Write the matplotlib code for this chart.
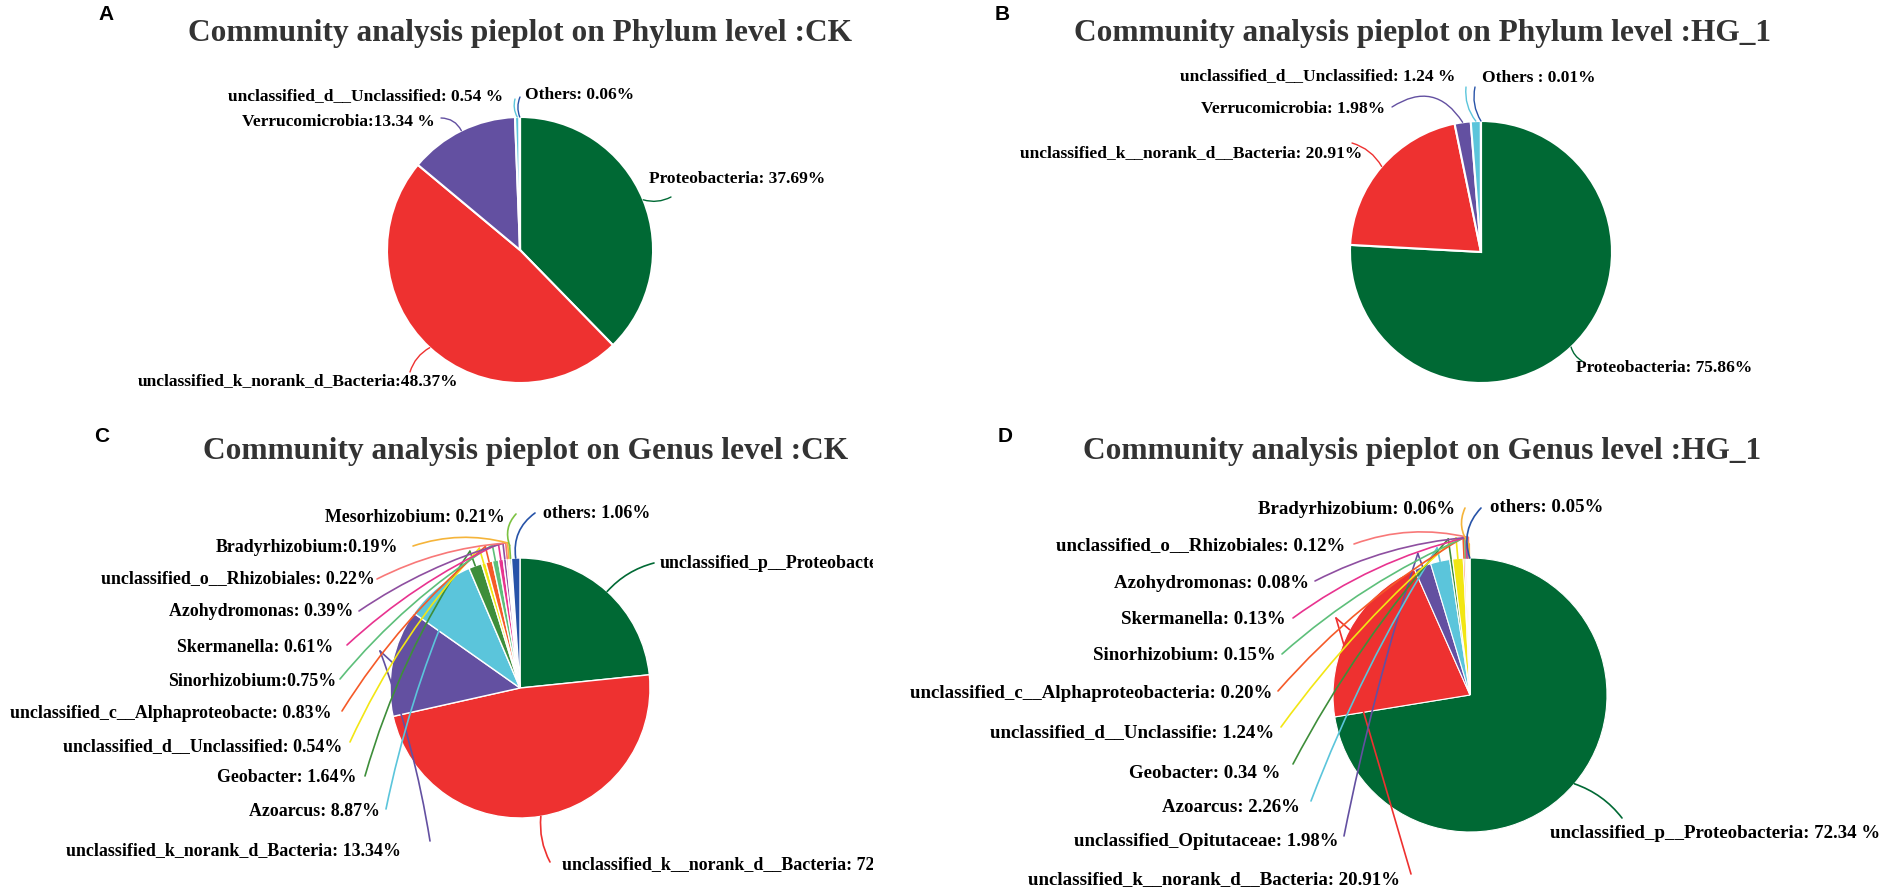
import matplotlib
matplotlib.use("Agg")
import matplotlib.pyplot as plt
import numpy as np
from matplotlib.transforms import Bbox, TransformedBbox

# ---------------- data ----------------
titles = ["Community analysis pieplot on Phylum level :CK",
          "Community analysis pieplot on Phylum level :HG_1",
          "Community analysis pieplot on Genus level :CK",
          "Community analysis pieplot on Genus level :HG_1"]
panel_letters = ["A", "B", "C", "D"]

labels_A = ["Proteobacteria: 37.69%", "unclassified_k_norank_d_Bacteria:48.37%",
            "Verrucomicrobia:13.34 %", "unclassified_d__Unclassified: 0.54 %", "Others: 0.06%"]
values_A = [37.69, 48.37, 13.34, 0.54, 0.06]

labels_B = ["Proteobacteria: 75.86%", "unclassified_k__norank_d__Bacteria: 20.91%",
            "Verrucomicrobia: 1.98%", "unclassified_d__Unclassified: 1.24 %", "Others : 0.01%"]
values_B = [75.86, 20.91, 1.98, 1.24, 0.01]

labels_C = ["unclassified_p__Proteobacteria", "unclassified_k__norank_d__Bacteria: 72.34%",
            "unclassified_k_norank_d_Bacteria: 13.34%", "Azoarcus: 8.87%", "Geobacter: 1.64%",
            "unclassified_d__Unclassified: 0.54%", "unclassified_c__Alphaproteobacte: 0.83%",
            "Sinorhizobium:0.75%", "Skermanella: 0.61%", "Azohydromonas: 0.39%",
            "unclassified_o__Rhizobiales: 0.22%", "Bradyrhizobium:0.19%",
            "Mesorhizobium: 0.21%", "others: 1.06%"]
values_C = [23.5, 48.37, 13.34, 8.87, 1.64, 0.54, 0.83, 0.75, 0.61, 0.39, 0.22, 0.19, 0.21, 1.06]

labels_D = ["unclassified_p__Proteobacteria: 72.34 %", "unclassified_k__norank_d__Bacteria: 20.91%",
            "unclassified_Opitutaceae: 1.98%", "Azoarcus: 2.26%", "Geobacter: 0.34 %",
            "unclassified_d__Unclassifie: 1.24%", "unclassified_c__Alphaproteobacteria: 0.20%",
            "Sinorhizobium: 0.15%", "Skermanella: 0.13%", "Azohydromonas: 0.08%",
            "unclassified_o__Rhizobiales: 0.12%", "Bradyrhizobium: 0.06%", "others: 0.05%"]
values_D = [72.34, 20.91, 1.98, 2.26, 0.34, 1.24, 0.20, 0.15, 0.13, 0.08, 0.12, 0.06, 0.05]

# ---------------- styles ----------------
GREEN, RED, PURPLE, CYAN, BLUE = "#006934", "#EE3130", "#6350A1", "#5BC5DB", "#2753A8"
colors_A = [GREEN, RED, PURPLE, CYAN, BLUE]
colors_B = [GREEN, RED, PURPLE, CYAN, BLUE]
small_cols = ["#3E8E3A", "#F2E614", "#F55A28", "#5DBF7A", "#E8338F", "#8E4FA0",
              "#F87878", "#F5B43A"]
colors_C = [GREEN, RED, PURPLE, CYAN] + small_cols + ["#7CC242", BLUE]
colors_D = [GREEN, RED, PURPLE, CYAN] + small_cols + [BLUE]

W, H = 1895, 892
fig = plt.figure(figsize=(W / 100, H / 100), dpi=100)
ax = fig.add_axes([0, 0, 1, 1])
ax.set_xlim(0, W)
ax.set_ylim(0, H)


def Y(y):
    return H - y


SERIF = ["Liberation Serif", "DejaVu Serif"]


def draw_pie(values, colors, cx, cy, r, explode, edge_lw):
    wedges, _ = ax.pie(values, colors=colors, startangle=90, counterclock=False,
                       center=(cx, Y(cy)), radius=r, explode=explode, frame=True,
                       wedgeprops=dict(edgecolor="white", linewidth=edge_lw))
    return wedges


def anchor(w, f=1.0):
    th = np.deg2rad((w.theta1 + w.theta2) / 2.0)
    c = w.center
    return (c[0] + f * w.r * np.cos(th), c[1] + f * w.r * np.sin(th))


def label(txt, x, y, ha, size, clipx=None):
    t = ax.text(x, Y(y), txt, ha=ha, va="center", fontsize=size, fontweight="bold",
                family=SERIF, color="black")
    if clipx is not None:
        t.set_clip_on(True)
        t.set_clip_box(TransformedBbox(Bbox([[0, 0], [clipx, H]]), ax.transData))
    return t


def leader(start, end, color, rad=0.15, lw=1.2):
    ax.annotate("", xy=end, xytext=(start[0], Y(start[1])),
                arrowprops=dict(arrowstyle="-", color=color, lw=lw, shrinkA=0, shrinkB=0,
                                connectionstyle=f"arc3,rad={rad}"))


def seg(p, q, color, lw=1.2):
    ax.plot([p[0], q[0]], [p[1], q[1]], color=color, lw=lw, solid_capstyle="round")


fsAB = 12.5
fsC = 12.9
fsD = 13.6

# ---------------- panel A ----------------
wA = draw_pie(values_A, colors_A, 520, 250, 133, [0.07, 0, 0, 0, 0], 1.5)
specA = [  # text x, text y, ha, line start, anchor factor, rad
    (649, 179, "left", (671, 197), 1.0, -0.2),
    (458, 381, "right", (410, 372), 1.0, -0.2),
    (435, 122, "right", (441, 118), 1.0, -0.3),
    (503, 96, "right", (515, 99), 1.0, 0.2),
    (525, 95, "left", (520, 97), 1.0, 0.2),
]
for i, (tx, ty, ha, st, f, rad) in enumerate(specA):
    label(labels_A[i], tx, ty, ha, fsAB)
    leader(st, anchor(wA[i], f), colors_A[i], rad, lw=1.0)

# ---------------- panel B ----------------
wB = draw_pie(values_B, colors_B, 1481, 252, 131, [0, 0.07, 0, 0, 0], 1.5)
specB = [
    (1576, 368, "left", (1582, 361), 1.0, -0.2),
    (1362, 153, "right", (1352, 143), 1.0, -0.2),
    (1385, 109, "right", (1392, 107), 1.0, -0.5),
    (1455, 76, "right", (1466, 87), 1.0, 0.2),
    (1482, 78, "left", (1475, 87), 1.0, 0.2),
]
for i, (tx, ty, ha, st, f, rad) in enumerate(specB):
    label(labels_B[i], tx, ty, ha, fsAB)
    leader(st, anchor(wB[i], f), colors_B[i], rad, lw=1.0)

# ---------------- panel C ----------------
explC = [0, 0, 0, 0.06, 0.05, 0, 0, 0, 0, 0, 0, 0, 0, 0]
wC = draw_pie(values_C, colors_C, 520, 688, 130, explC, 1.0)
specC = [
    (660, 564, "left", (654, 563), 1.0, 0.15),
    (562, 865, "left", (550, 862), 1.0, -0.15),
    (401, 851, "right", (430, 841), 1.0, 0.05),
    (380, 811, "right", (386, 809), 0.85, -0.05),
    (356, 778, "right", (365, 776), 1.12, -0.08),
    (342, 747, "right", (350, 742), 1.12, -0.08),
    (331, 713, "right", (342, 711), 1.12, -0.08),
    (336, 681, "right", (340, 679), 1.12, -0.08),
    (333, 647, "right", (347, 645), 1.12, -0.08),
    (353, 612, "right", (359, 611), 1.12, -0.08),
    (375, 579, "right", (377, 579), 1.12, -0.1),
    (398, 548, "right", (413, 546), 1.12, -0.15),
    (505, 517, "right", (516, 514), 1.1, 0.3),
    (543, 514, "left", (535, 513), 1.0, 0.3),
]
for i, (tx, ty, ha, st, f, rad) in enumerate(specC):
    label(labels_C[i], tx, ty, ha, fsC, clipx=873)
    end = anchor(wC[i], f)
    if i == 2:
        hook = (380, Y(651))
        leader(st, hook, colors_C[i], 0.05)
        seg(hook, anchor(wC[i], 1.0), colors_C[i])
    else:
        leader(st, end, colors_C[i], rad)
        if f > 1.0:
            seg(end, anchor(wC[i], 1.0), colors_C[i])

# ---------------- panel D ----------------
explD = [0, 0, 0, 0.03, 0, 0, 0, 0, 0, 0, 0, 0, 0]
wD = draw_pie(values_D, colors_D, 1470, 695, 137, explD, 0.8)
specD = [
    (1550, 834, "left", (1622, 818), 1.0, 0.15),
    (1400, 880, "right", (1411, 874), 1.0, 0.0),
    (1338, 841, "right", (1344, 836), 1.1, -0.03),
    (1300, 808, "right", (1311, 801), 1.1, -0.05),
    (1280, 774, "right", (1293, 764), 1.15, -0.06),
    (1274, 733, "right", (1281, 727), 1.15, -0.06),
    (1272, 693, "right", (1278, 691), 1.15, -0.08),
    (1276, 656, "right", (1282, 654), 1.15, -0.08),
    (1286, 619, "right", (1293, 618), 1.15, -0.1),
    (1309, 583, "right", (1315, 581), 1.15, -0.1),
    (1345, 546, "right", (1354, 544), 1.15, -0.15),
    (1455, 509, "right", (1465, 508), 1.1, 0.3),
    (1490, 508, "left", (1481, 508), 1.0, 0.3),
]
for i, (tx, ty, ha, st, f, rad) in enumerate(specD):
    label(labels_D[i], tx, ty, ha, fsD)
    if i == 1:
        hook = (1336, Y(618))
        leader(st, hook, colors_D[i], 0.0)
        seg(hook, anchor(wD[i], 1.0), colors_D[i])
    else:
        end = anchor(wD[i], f)
        leader(st, end, colors_D[i], rad)
        if f > 1.0:
            seg(end, anchor(wD[i], 1.0), colors_D[i])

# ---------------- titles and panel letters ----------------
title_pos = [(520, 33), (1423, 33), (526, 452), (1422, 452)]
letter_pos = [(106, 15), (1002, 15), (102, 437), (1005, 437)]
for t, (x, y) in zip(titles, title_pos):
    ax.text(x, Y(y), t, ha="center", va="center", fontsize=22.6, fontweight="bold",
            family=SERIF, color="#333333")
for l, (x, y) in zip(panel_letters, letter_pos):
    ax.text(x, Y(y), l, ha="center", va="center", fontsize=15, fontweight="bold",
            family=["Liberation Sans", "DejaVu Sans"], color="black")

ax.set_xlim(0, W)
ax.set_ylim(0, H)
ax.axis("off")
fig.savefig("out.png", dpi=100, facecolor="white")
